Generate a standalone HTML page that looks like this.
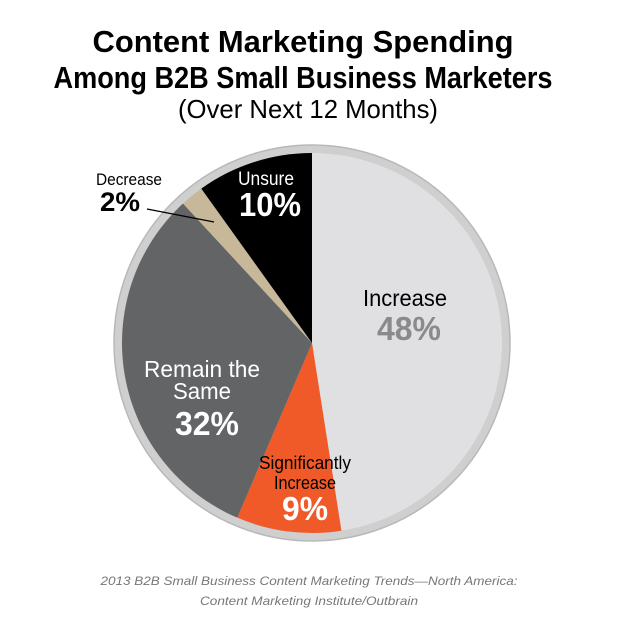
<!DOCTYPE html>
<html><head><meta charset="utf-8"><style>
html,body{margin:0;padding:0;background:#fff;}
svg{display:block;font-family:"Liberation Sans",sans-serif;}
</style></head><body>
<svg id="chart" width="618" height="638" viewBox="0 0 618 638">
<text x="303" y="52" text-anchor="middle" font-size="31" font-weight="bold" textLength="421" lengthAdjust="spacingAndGlyphs">Content Marketing Spending</text>
<text x="303" y="88" text-anchor="middle" font-size="31" font-weight="bold" textLength="499" lengthAdjust="spacingAndGlyphs">Among B2B Small Business Marketers</text>
<text x="308" y="118" text-anchor="middle" font-size="26" textLength="260" lengthAdjust="spacingAndGlyphs">(Over Next 12 Months)</text>
<circle cx="312" cy="343" r="198" fill="#cfcfcf" stroke="#b8b8b8" stroke-width="1.5"/>
<g id="slices"></g>
<g id="labels"></g>
<line x1="147" y1="209" x2="214" y2="222" stroke="#000" stroke-width="1.3"/>
<text x="309" y="585" text-anchor="middle" font-size="12" font-style="italic" fill="#777" textLength="417" lengthAdjust="spacingAndGlyphs">2013 B2B Small Business Content Marketing Trends—North America:</text>
<text x="309" y="605" text-anchor="middle" font-size="12" font-style="italic" fill="#777" textLength="218" lengthAdjust="spacingAndGlyphs">Content Marketing Institute/Outbrain</text>
</svg>
<script>
const categories = ["Increase", "Significantly Increase", "Remain the Same", "Decrease", "Unsure"];
const values = [48, 9, 32, 2, 10];
const colors = ["#e0e0e2", "#f05a28", "#636466", "#c8b89a", "#000000"];
const cx = 312, cy = 343, r = 190;
const total = values.reduce((a,b)=>a+b,0);
function angleOf(v){ return v/total*Math.PI*2; }
function pt(a){ return [cx + r*Math.sin(a), cy - r*Math.cos(a)]; }
const NS = "http://www.w3.org/2000/svg";
const g = document.getElementById("slices");
let start = 0;
values.forEach((v,i)=>{
  const end = start + angleOf(v);
  const [x1,y1] = pt(start), [x2,y2] = pt(end);
  const large = (end-start) > Math.PI ? 1 : 0;
  const p = document.createElementNS(NS,"path");
  p.setAttribute("d", `M${cx},${cy} L${x1},${y1} A${r},${r} 0 ${large} 1 ${x2},${y2} Z`);
  p.setAttribute("fill", colors[i]);
  
  
  g.appendChild(p);
  start = end;
});
const lg = document.getElementById("labels");
function txt(x,y,s,size,bold,fill,name,len){
  const t = document.createElementNS(NS,"text");
  t.setAttribute("x",x); t.setAttribute("y",y);
  t.setAttribute("text-anchor","middle");
  t.setAttribute("font-size",size);
  if(bold) t.setAttribute("font-weight","bold");
  t.setAttribute("fill",fill);
  if(len){ t.setAttribute("textLength",len); t.setAttribute("lengthAdjust","spacingAndGlyphs"); }
  t.textContent = s;
  
  
  lg.appendChild(t);
}
txt(266,185,categories[4].replace("Unsure","Unsure"),19,false,"#fff","unsure-label",56);
txt(270,216,values[4]+"%",33,true,"#fff","unsure-value",62);
txt(405,306,categories[0],23,false,"#000","increase-label",84);
txt(409,340,values[0]+"%",33,true,"#8a8a8c","increase-value",64);
txt(202,377,"Remain the",23,false,"#fff","remain-label-line1",116);
txt(202,399,"Same",23,false,"#fff","remain-label-line2",58);
txt(207,435,values[2]+"%",33,true,"#fff","remain-value",64);
txt(305,469,"Significantly",18,false,"#000","sig-increase-label-line1",92);
txt(305,489,"Increase",18,false,"#000","sig-increase-label-line2",62);
txt(305,520,values[1]+"%",33,true,"#fff","sig-increase-value",46);
txt(129,185,categories[3],17,false,"#000","decrease-label",66);
txt(120,211,values[3]+"%",27,true,"#000","decrease-value",40);
</script>
</body></html>
